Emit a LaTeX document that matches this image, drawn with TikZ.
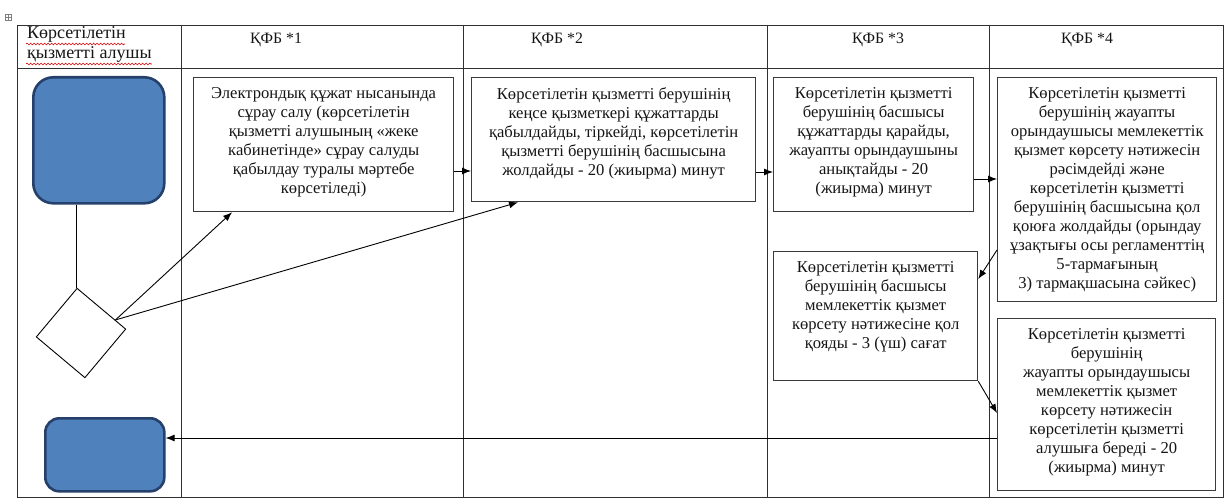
\documentclass[tikz,border=0pt]{standalone}
\usepackage{fontspec}
\setmainfont{Liberation Serif}
\usetikzlibrary{arrows.meta,shapes.geometric,decorations.pathmorphing,calc}
\definecolor{tline}{HTML}{303030}
\definecolor{bline}{HTML}{3A3A3A}
\definecolor{txt}{HTML}{151515}
\definecolor{bfill}{HTML}{4F81BD}
\definecolor{bedge}{HTML}{25406B}
\begin{document}
\begin{tikzpicture}[x=1pt,y=-1pt,
  every node/.style={text=txt},
  tbl/.style={draw=tline,line width=0.9pt},
  procbox/.style={draw=bline,line width=1.3pt,rectangle,inner sep=0pt,anchor=north west},
  boxtext/.style={anchor=north,align=center,inner sep=0pt,font=\fontsize{16.6}{19}\selectfont},
  hdr/.style={anchor=base,inner sep=0pt,font=\fontsize{15.8}{19}\selectfont},
  lhdr/.style={anchor=base west,inner sep=0pt,font=\fontsize{18}{20}\selectfont},
  term/.style={draw=bedge,line width=2.6pt,fill=bfill,rectangle,inner sep=0pt,anchor=north west},
  arr/.style={draw=black,line width=0.9pt,-{Latex[length=9pt,width=7pt]}},
  wavy/.style={draw=red!85!black,line width=0.6pt,decorate,decoration={snake,amplitude=0.9pt,segment length=3.5pt}}
]
\useasboundingbox (0,0) rectangle (1225,500);
% table handle
\node[draw=gray,line width=0.4pt,minimum size=6pt,inner sep=0pt] (handle) at (8,17) {};
\draw[gray,line width=0.4pt] (handle.north) -- (handle.south) (handle.west) -- (handle.east);
% table
\draw[tbl] (17,25) rectangle (1223,497);
\draw[tbl] (17,68) -- (1223,68);
\foreach \x in {181,463,767,989} \draw[tbl] (\x,25) -- (\x,497);
% headers
\node[lhdr] (h0a) at (27,39) {Көрсетілетін};
\node[lhdr] (h0b) at (27,59) {қызметті алушы};
\draw[wavy] (26,44) -- (125,44);
\draw[wavy] (26,64) -- (152,64);
\node[hdr] (h1) at (276,44) {ҚФБ *1};
\node[hdr] (h2) at (557,44) {ҚФБ *2};
\node[hdr] (h3) at (878,44) {ҚФБ *3};
\node[hdr] (h4) at (1087,44) {ҚФБ *4};
% terminators and decision
\node[term,rounded corners=20pt,minimum width=131pt,minimum height=126pt] (rect1) at (32,76) {};
\node[term,rounded corners=14pt,minimum width=119pt,minimum height=73pt] (rect2) at (44,417) {};
\node[draw=black,line width=0.9pt,diamond,shape aspect=1,minimum width=90pt,minimum height=90pt,inner sep=0pt,rotate=5] (dia) at (81,333) {};
% process boxes
\node[procbox,minimum width=260pt,minimum height=134pt] (box1) at (193,77) {};
\node[procbox,minimum width=284pt,minimum height=124pt] (box2) at (471,77) {};
\node[procbox,minimum width=200pt,minimum height=134pt] (box3) at (773,77) {};
\node[procbox,minimum width=219pt,minimum height=224pt] (box4) at (997,77) {};
\node[procbox,minimum width=204pt,minimum height=129pt] (box5) at (773,251) {};
\node[procbox,minimum width=218pt,minimum height=172pt] (box6) at (997,318) {};
\node[boxtext] (t1) at ([yshift=-10pt]box1.north) {Электрондық құжат нысанында\\сұрау салу (көрсетілетін\\қызметті алушының «жеке\\кабинетінде» сұрау салуды\\қабылдау туралы мәртебе\\көрсетіледі)};
\node[boxtext] (t2) at ([yshift=-10pt]box2.north) {Көрсетілетін қызметті берушінің\\кеңсе қызметкері құжаттарды\\қабылдайды, тіркейді, көрсетілетін\\қызметті берушінің басшысына\\жолдайды - 20 (жиырма) минут};
\node[boxtext] (t3) at ([yshift=-10pt]box3.north) {Көрсетілетін қызметті\\берушінің басшысы\\құжаттарды қарайды,\\жауапты орындаушыны\\анықтайды - 20\\(жиырма) минут};
\node[boxtext] (t4) at ([yshift=-10pt]box4.north) {Көрсетілетін қызметті\\берушінің жауапты\\орындаушысы мемлекеттік\\қызмет көрсету нәтижесін\\рәсімдейді және\\көрсетілетін қызметті\\берушінің басшысына қол\\қоюға жолдайды (орындау\\ұзақтығы осы регламенттің\\5-тармағының\\3) тармақшасына сәйкес)};
\node[boxtext] (t5) at ([yshift=-10pt]box5.north) {Көрсетілетін қызметті\\берушінің басшысы\\мемлекеттік қызмет\\көрсету нәтижесіне қол\\қояды - 3 (үш) сағат};
\node[boxtext] (t6) at ([yshift=-10pt]box6.north) {Көрсетілетін қызметті\\берушінің\\жауапты орындаушысы\\мемлекеттік қызмет\\көрсету нәтижесін\\көрсетілетін қызметті\\алушыға береді - 20\\(жиырма) минут};
% connectors
\draw[draw=black,line width=0.9pt] ([xshift=-22pt]rect1.south) coordinate (v0) -- (v0 |- dia.north);
\coordinate (ds) at ($(dia.east)!0.22!(dia.north)$);
\draw[arr] (ds) -- ([xshift=39pt]box1.south west);
\draw[arr] (ds) -- ([xshift=47pt]box2.south west);
\draw[arr] ([yshift=-94pt]box1.north east) coordinate (a1) -- (a1 -| box2.west);
\draw[arr] ([yshift=-95pt]box2.north east) coordinate (a2) -- (a2 -| box3.west);
\draw[arr] ([yshift=-102pt]box3.north east) coordinate (a3) -- (a3 -| box4.west);
\draw[arr] ([yshift=-173pt]box4.north west) -- ([yshift=-28pt]box5.north east);
\draw[arr] (box5.south east) -- ([yshift=-95pt]box6.north west);
\draw[arr] ([yshift=-120pt]box6.north west) coordinate (a6) -- (a6 -| rect2.east);
\end{tikzpicture}
\end{document}
